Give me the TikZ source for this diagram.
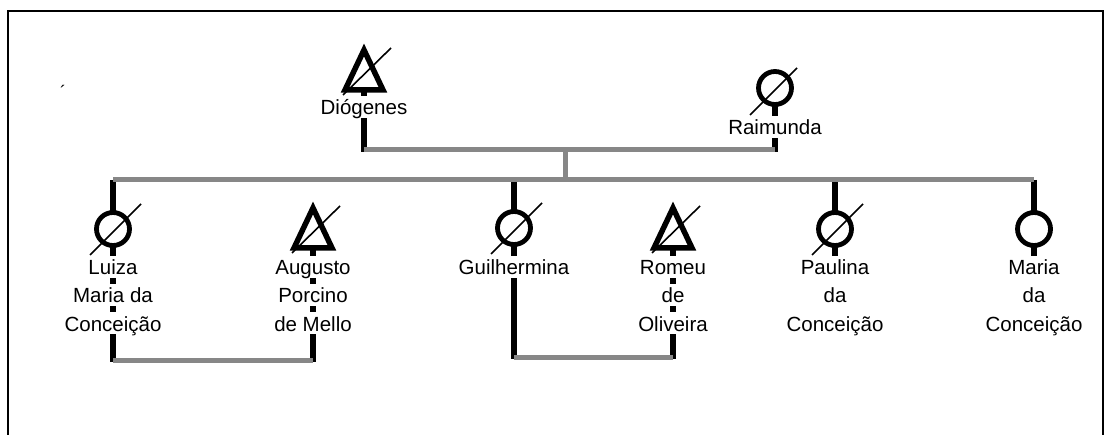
\documentclass[tikz,border=0pt]{standalone}
\usepackage{fontspec}
\setmainfont{Liberation Sans}
\usetikzlibrary{calc,backgrounds}
\definecolor{bargray}{RGB}{135,135,135}
\begin{document}
\begin{tikzpicture}[x=1pt,y=-1pt,
  kin/.style={line width=5.5pt,black},
  tie/.style={line width=5pt,draw=bargray},
  fem/.style={draw,line width=4.8pt,fill=white,circle,minimum size=33pt,inner sep=0pt},
  malesym/.style={draw,line width=5.5pt,fill=white,line join=miter},
  slash/.style={line width=1.6pt,black},
  lbl/.style={fill=white,inner sep=0pt,anchor=base,text height=19pt,text depth=3pt,
              font=\fontsize{20.5}{24}\selectfont},
]
\useasboundingbox (0,0) rectangle (1110,435);

% frame
\draw[line width=2.2pt] (8,440) -- (8,11) -- (1103,11) -- (1103,440);

% person positions
\coordinate (dio) at (364,70);
\coordinate (rai) at (775,88);
\coordinate (luz) at (113,229);
\coordinate (aug) at (313,228);
\coordinate (gui) at (514,228);
\coordinate (rom) at (673,228);
\coordinate (pau) at (835,229);
\coordinate (mar) at (1034,229);
% bar levels
\coordinate (parents) at (565,150);
\coordinate (kids) at (565,180);
\coordinate (wedA) at (0,360);
\coordinate (wedB) at (0,357);

% stray mark
\node[font=\fontsize{18}{18}\selectfont,inner sep=0pt] (mark) at (63,92) {´};

% symbols: females as circles, males as triangles, deceased struck through
\node[fem] (raiS) at (rai) {};
\draw[slash] ($(rai)+(-25,27)$) -- ($(rai)+(22,-20)$);
\node[fem] (luzS) at (luz) {};
\draw[slash] ($(luz)+(-23,26)$) -- ($(luz)+(28,-25)$);
\node[fem] (guiS) at (gui) {};
\draw[slash] ($(gui)+(-23,26)$) -- ($(gui)+(28,-25)$);
\node[fem] (pauS) at (pau) {};
\draw[slash] ($(pau)+(-23,26)$) -- ($(pau)+(28,-25)$);
\node[fem] (marS) at (mar) {};

\foreach \p in {dio,aug,rom}{
  \draw[malesym] ($(\p)+(0,-20)$) -- ($(\p)+(19,20)$) -- ($(\p)+(-19,20)$) -- cycle;
  \draw[slash] ($(\p)+(-21,25)$) -- ($(\p)+(27,-22)$);
}

% names
\node[lbl] (dio1) at (364,115) {Diógenes};
\node[lbl] (rai1) at (775,135) {Raimunda};

\node[lbl] (luz1) at (113,275) {Luiza};
\node[lbl] (luz2) at (113,303) {Maria da};
\node[lbl] (luz3) at (113,331) {Conceição};

\node[lbl] (aug1) at (313,275) {Augusto};
\node[lbl] (aug2) at (313,303) {Porcino};
\node[lbl] (aug3) at (313,331) {de Mello};

\node[lbl] (gui1) at (514,275) {Guilhermina};

\node[lbl] (rom1) at (673,275) {Romeu};
\node[lbl] (rom2) at (673,303) {de};
\node[lbl] (rom3) at (673,331) {Oliveira};

\node[lbl] (pau1) at (835,275) {Paulina};
\node[lbl] (pau2) at (835,303) {da};
\node[lbl] (pau3) at (835,331) {Conceição};

\node[lbl] (mar1) at (1034,275) {Maria};
\node[lbl] (mar2) at (1034,303) {da};
\node[lbl] (mar3) at (1034,331) {Conceição};

% connectors, behind symbols and names
\begin{pgfonlayer}{background}
  \draw[kin] (dio) -- ($(dio |- parents)+(0,2)$);
  \draw[kin] (rai) -- ($(rai |- parents)+(0,2)$);
  \draw[kin] (luz |- kids) -- ($(luz |- wedA)+(0,2)$);
  \draw[kin] (aug) -- ($(aug |- wedA)+(0,2)$);
  \draw[kin] (gui |- kids) -- ($(gui |- wedB)+(0,2)$);
  \draw[kin] (rom) -- ($(rom |- wedB)+(0,2)$);
  \draw[kin] (pau |- kids) -- (pau1.north);
  \draw[kin] (mar |- kids) -- (mar1.north);

  \draw[tie] (dio |- parents) -- (rai |- parents);
  \draw[tie] (parents) -- (kids);
  \draw[tie] (luz |- kids) -- (mar |- kids);
  \draw[tie] (luz |- wedA) -- (aug |- wedA);
  \draw[tie] (gui |- wedB) -- (rom |- wedB);
\end{pgfonlayer}
\end{tikzpicture}
\end{document}
